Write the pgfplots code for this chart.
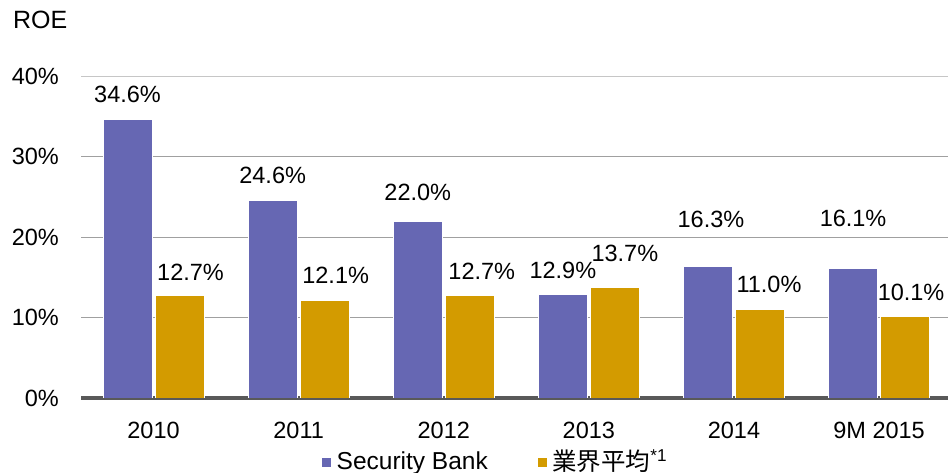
\documentclass[border=0pt]{standalone}
\usepackage{fontspec}
\setmainfont{Liberation Sans}
\newfontfamily\cjk{Noto Sans CJK JP}
\usepackage{pgfplots}
\usepackage{pgfplotstable}
\pgfplotsset{compat=1.18}
\definecolor{sbblue}{RGB}{102,103,179}
\definecolor{avggold}{RGB}{211,155,0}
\definecolor{gridgray}{RGB}{160,160,160}
\definecolor{axisgray}{RGB}{89,89,89}
\pgfplotstableread{
x y dx dy
0 34.6 0 25
1 24.6 0 25
2 22.0 0 29
3 12.9 0 24
4 16.3 3 48
5 16.1 0 50
}\sbdata
\pgfplotstableread{
x y dx dy
0 12.7 11 24
1 12.1 11 25.5
2 12.7 12 25
3 13.7 10 34
4 11.0 9 25
5 10.1 6 24
}\avgdata
\begin{document}
\fontsize{23.5bp}{28bp}\selectfont
\begin{tikzpicture}
\useasboundingbox (0,0) rectangle (951bp,473bp);
\node[anchor=west,inner sep=0,font=\fontsize{25bp}{30bp}\selectfont] at (13bp,453bp) {ROE};
\begin{axis}[
  at={(81bp,75bp)}, anchor=south west,
  scale only axis, width=867bp, height=321.6bp,
  xmin=-0.5, xmax=5.475, ymin=0, ymax=40,
  ybar=3bp, bar width=49bp,
  xtick={0,...,5},
  xticklabels={2010,2011,2012,2013,2014,9M 2015},
  ytick={0,10,20,30},
  extra y ticks={40},
  extra y tick style={grid style={color=gridgray!60, line width=1bp}},
  yticklabel={\pgfmathprintnumber{\tick}\%},
  /pgf/number format/assume math mode=true,
  ymajorgrids,
  grid style={color=gridgray, line width=1bp},
  major tick length=0pt,
  axis lines*=left,
  axis line style={-},
  y axis line style={draw=none},
  x axis line style={color=axisgray, line width=3bp},
  yticklabel style={anchor=east, inner sep=0pt, xshift=-22bp},
  xticklabel style={anchor=north, inner sep=0pt, yshift=-24bp},
  tick label style={font=\fontsize{23.5bp}{28bp}\selectfont},
  axis on top=false,
  nodes near coords={\pgfmathprintnumber[fixed,fixed zerofill,precision=1]{\pgfplotspointmeta}\%},
  visualization depends on={\thisrow{dx} \as \dx},
  visualization depends on={\thisrow{dy} \as \dy},
  nodes near coords style={anchor=center, inner sep=0pt, xshift=\dx bp, yshift=\dy bp, font=\fontsize{23.5bp}{28bp}\selectfont, text=black},
  legend columns=2,
  legend style={at={(0.278,0)}, yshift=-64bp, anchor=west, draw=none, fill=none,
    font=\fontsize{24.5bp}{29bp}\selectfont,
    /tikz/every even column/.append style={column sep=48bp},
    inner sep=0pt},
  legend image code/.code={\fill[#1,draw=none] (0bp,-4.5bp) rectangle (9bp,4.5bp); \path (9bp,0) -- (12bp,0);},
]
\addplot[fill=sbblue, draw=white, line width=1bp] table[x=x,y=y] {\sbdata};
\addplot[fill=avggold, draw=white, line width=1bp] table[x=x,y=y] {\avgdata};
\legend{Security Bank,{\cjk 業界平均}\textsuperscript{*1}}
\end{axis}
\end{tikzpicture}
\end{document}
